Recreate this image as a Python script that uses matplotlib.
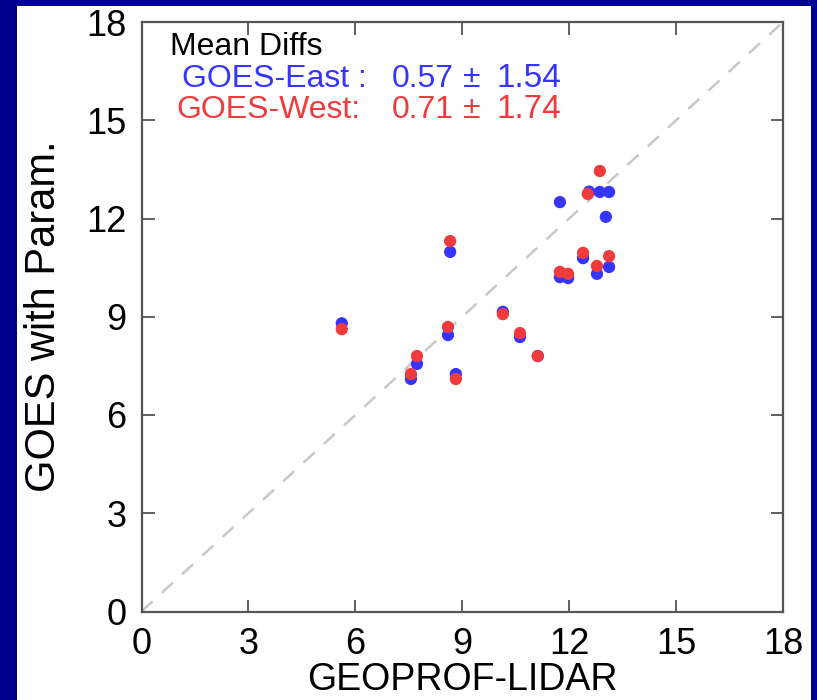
import matplotlib
matplotlib.use('Agg')
import matplotlib.pyplot as plt
from matplotlib.patches import Rectangle

plt.rcParams['font.family'] = ['Liberation Sans', 'DejaVu Sans']

# GEOPROF-LIDAR (x) vs GOES with Param. (y)
east_x = [11.74, 12.86, 13.12, 12.56, 13.03, 12.39, 11.74, 11.97, 12.78, 13.12,
          8.66, 8.60, 7.73, 7.56, 8.82, 10.14, 10.62, 11.12, 5.62]
east_y = [12.50, 12.81, 12.81, 12.82, 12.05, 10.79, 10.21, 10.18, 10.31, 10.52,
          10.98, 8.44, 7.56, 7.10, 7.25, 9.15, 8.38, 7.80, 8.80]

west_x = [12.86, 12.52, 12.39, 11.74, 11.97, 12.78, 13.12,
          8.66, 8.60, 7.73, 7.56, 8.82, 10.14, 10.62, 11.12, 5.62]
west_y = [13.45, 12.75, 10.95, 10.37, 10.31, 10.55, 10.85,
          11.31, 8.69, 7.80, 7.25, 7.10, 9.08, 8.50, 7.80, 8.62]

ticks = [0, 3, 6, 9, 12, 15, 18]

diff_names = ['GOES-East :', 'GOES-West:']
diff_means = ['0.57', '0.71']
diff_sds = ['1.54', '1.74']
diff_colors = ['#3535ff', '#ef3b3b']

fig = plt.figure(figsize=(8.17, 7.0), dpi=100)
fig.patch.set_facecolor('#000090')
fig.patches.append(Rectangle((17 / 817, 0), (811 - 17) / 817, 694 / 700,
                             transform=fig.transFigure, facecolor='white',
                             edgecolor='none', zorder=-10))

ax = fig.add_axes([141.5 / 817, 88.5 / 700, 641.5 / 817, 589.5 / 700])
ax.set_facecolor('white')

ax.plot([0, 18], [0, 18], color='#c8c8c8', lw=1.8, dashes=(6, 5), zorder=1)

ax.scatter(east_x, east_y, s=78, color=diff_colors[0], edgecolors='none', zorder=2)
ax.scatter(west_x, west_y, s=78, color=diff_colors[1], edgecolors='none', zorder=3)

ax.set_xlim(0, 18)
ax.set_ylim(0, 18)
ax.set_xticks(ticks)
ax.set_yticks(ticks)
ax.tick_params(direction='in', length=9, width=1.3, color='#555555',
               top=True, right=True, labelsize=26, pad=11)
for sp in ax.spines.values():
    sp.set_color('#555555')
    sp.set_linewidth(1.6)

ax.set_xlabel('GEOPROF-LIDAR', fontsize=27, labelpad=0)
ax.set_ylabel('GOES with Param.', fontsize=30, labelpad=16)

# "Mean Diffs" box in the upper left
ax.text(0.044, 0.944, 'Mean Diffs', transform=ax.transAxes, fontsize=23,
        color='black', va='baseline', ha='left')
rows_y = [0.890, 0.837]
name_x = [0.063, 0.055]
for i in range(2):
    kw = dict(transform=ax.transAxes, fontsize=23, color=diff_colors[i],
              va='baseline', ha='left')
    ax.text(name_x[i], rows_y[i], diff_names[i], **kw)
    ax.text(0.3905, rows_y[i], diff_means[i], **kw)
    ax.text(0.5011, rows_y[i], '\u00b1', **kw)
    ax.text(0.5541, rows_y[i], diff_sds[i], fontsize=24, **{k: v for k, v in kw.items() if k != 'fontsize'})

fig.savefig('out.png', dpi=100, facecolor=fig.get_facecolor())
